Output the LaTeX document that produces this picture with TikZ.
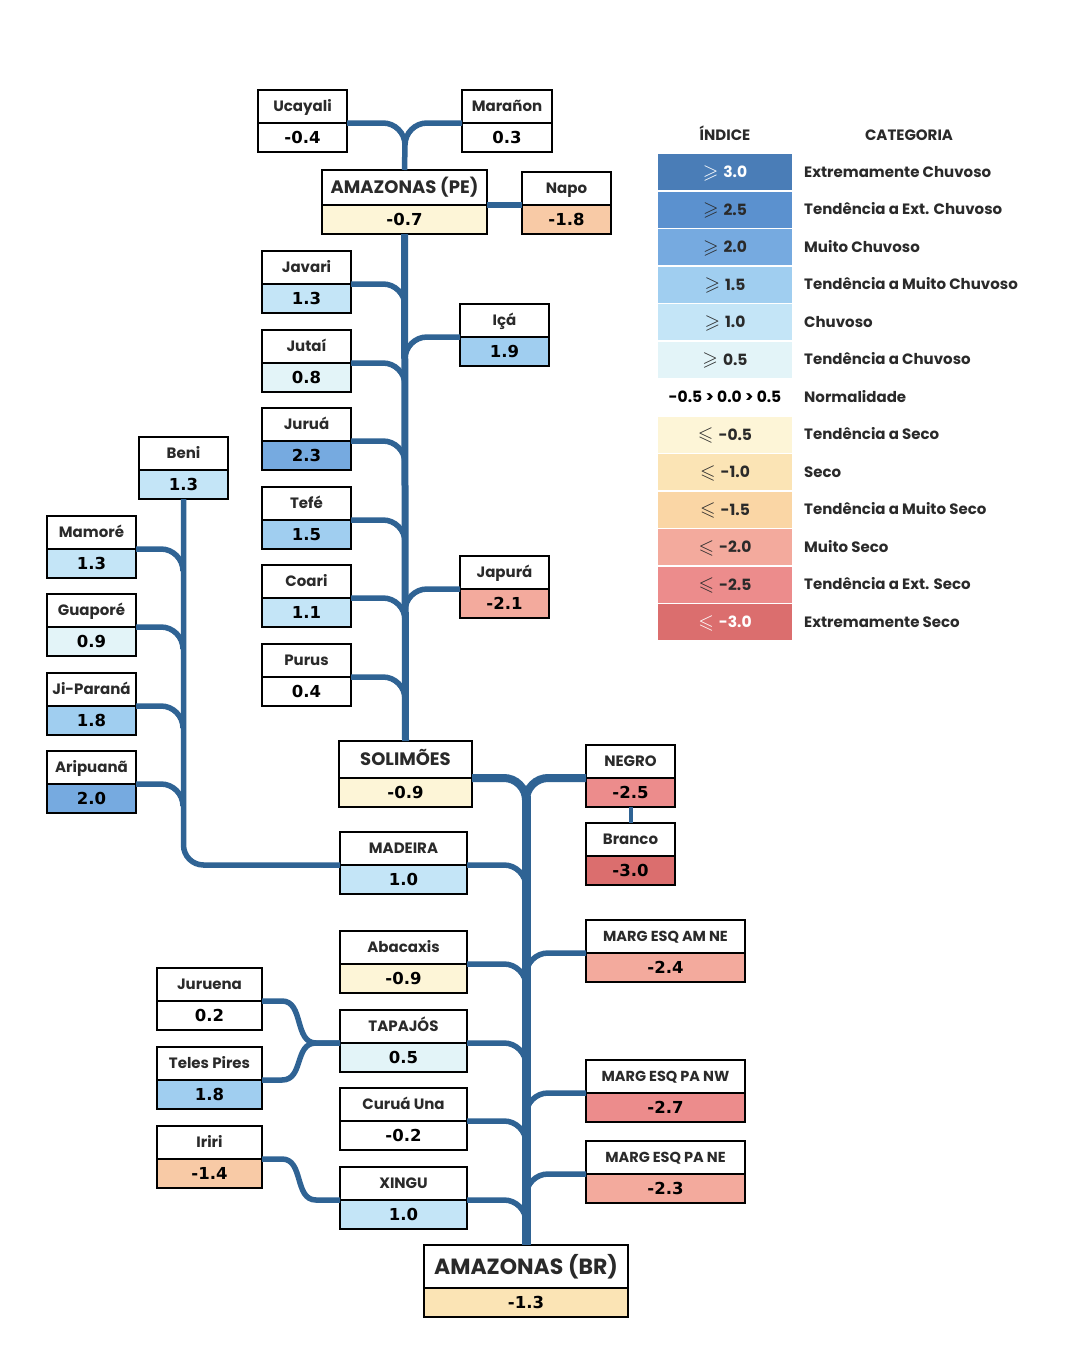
\documentclass[tikz,border=0pt]{standalone}
\usepackage{fontspec}
\usepackage{amssymb}
\usetikzlibrary{calc}
\newfontfamily\labfont{Poppins Bold}
\newfontfamily\valfont{DejaVu Sans}
\definecolor{txt}{HTML}{2A2A2A}
\definecolor{riv}{HTML}{2F6394}
\definecolor{c30}{HTML}{4A7DB7}
\definecolor{c25}{HTML}{5B91CF}
\definecolor{c20}{HTML}{76AAE0}
\definecolor{c15}{HTML}{A0CEF0}
\definecolor{c10}{HTML}{C4E5F7}
\definecolor{c05}{HTML}{E3F4F8}
\definecolor{n05}{HTML}{FDF5D7}
\definecolor{n10}{HTML}{FBE4B5}
\definecolor{n15}{HTML}{FAD6A5}
\definecolor{npe}{HTML}{F8CAA6}
\definecolor{n20}{HTML}{F3AA9D}
\definecolor{n25}{HTML}{EC8C8C}
\definecolor{n30}{HTML}{DB6E6E}
\tikzset{
  labbox/.style={draw=black, line width=1.8, fill=white, inner sep=0, outer sep=0,
    minimum height=33, text=txt, text height=10.5pt, text depth=0pt,
    font=\labfont\fontsize{15}{16}\selectfont},
  valbox/.style={draw=black, line width=1.8, inner sep=0, outer sep=0,
    minimum height=29, text=black, text height=12pt, text depth=0pt,
    font=\valfont\bfseries\fontsize{16.5}{17}\selectfont},
  big/.style={font=\labfont\fontsize{18}{19}\selectfont, text height=12.6pt},
  huge/.style={minimum height=43, font=\labfont\fontsize{22}{23}\selectfont, text height=15.4pt},
  marg/.style={font=\labfont\fontsize{14.5}{15}\selectfont, text height=10.2pt},
  trib/.style={draw=riv, line width=5.5},
  stem/.style={draw=riv, line width=7},
  trunk/.style={draw=riv, line width=9},
  thick branch/.style={draw=riv, line width=8},
  legbox/.style={inner sep=0, outer sep=0, minimum width=134, minimum height=36,
    text height=11pt, text depth=0pt, font=\labfont\fontsize{15.5}{16}\selectfont},
  cattext/.style={anchor=west, inner sep=0, text=txt, text height=10.5pt, text depth=0pt,
    font=\labfont\fontsize{15}{16}\selectfont},
}
\newcommand\mygeq{{\fontsize{20}{20}\selectfont\raisebox{-0.5pt}{$\geqslant$}}\kern5pt}
\newcommand\myleq{{\fontsize{20}{20}\selectfont\raisebox{-0.5pt}{$\leqslant$}}\kern5pt}
% #1 label options, #2 name, #3 x, #4 top y, #5 width, #6 label, #7 value, #8 colour
\newcommand\rbox[8][]{%
  \node[labbox, minimum width=#5, anchor=north west, #1] (#2) at (#3,#4) {#6};
  \node[valbox, minimum width=#5, fill=#8, anchor=north] (#2-v) at (#2.south) {#7};}
% branch leaving the right side of a box into a stem on its right
\newcommand\lbr[3][trib]{%
  \draw[#1] (#2.south east) -- ($(#2.south east -| #3)+(-22,0)$)
    .. controls +(12,0) and +(0,-12) .. ($(#2.south east -| #3)+(0,22)$);}
% branch leaving the left side of a box into a stem on its left
\newcommand\rbr[3][trib]{%
  \draw[#1] (#2.south west) -- ($(#2.south west -| #3)+(22,0)$)
    .. controls +(-12,0) and +(0,-12) .. ($(#2.south west -| #3)+(0,22)$);}
% S-shaped branch into the left side of a box
\newcommand\sbr[2]{%
  \draw[trib] (#1.south east) -- ++(20,0)
    .. controls +(22,0) and +(-22,0) .. ($(#2.south west)+(-24,0)$) -- (#2.south west);}

\begin{document}
\begin{tikzpicture}[x=1pt,y=-1pt]
\useasboundingbox[fill=white] (0,0) rectangle (1080,1350);

% stems (x positions)
\coordinate (sU) at (405,0);
\coordinate (sL) at (526,0);
\coordinate (sB) at (183,0);
\coordinate (jtop) at (405,144);
\coordinate (jlow) at (526,796);

% ---------- boxes ----------
\rbox{ucayali}{258}{90}{89}{Ucayali}{-0.4}{white}
\rbox{maranon}{462}{90}{90}{Marañon}{0.3}{white}
\rbox[big, minimum height=35]{amzpe}{322}{170}{165}{AMAZONAS (PE)}{-0.7}{n05}
\rbox{napo}{522}{172}{89}{Napo}{-1.8}{npe}

\rbox{javari}{262}{251}{89}{Javari}{1.3}{c10}
\rbox{jutai}{262}{330}{89}{Jutaí}{0.8}{c05}
\rbox{jurua}{262}{408}{89}{Juruá}{2.3}{c20}
\rbox{tefe}{262}{487}{89}{Tefé}{1.5}{c15}
\rbox{coari}{262}{565}{89}{Coari}{1.1}{c10}
\rbox{purus}{262}{644}{89}{Purus}{0.4}{white}
\rbox{ica}{460}{304}{89}{Içá}{1.9}{c15}
\rbox{japura}{460}{556}{89}{Japurá}{-2.1}{n20}

\rbox{beni}{139}{437}{89}{Beni}{1.3}{c10}
\rbox{mamore}{47}{516}{89}{Mamoré}{1.3}{c10}
\rbox{guapore}{47}{594}{89}{Guaporé}{0.9}{c05}
\rbox{jiparana}{47}{673}{89}{Ji-Paraná}{1.8}{c15}
\rbox{aripuana}{47}{751}{89}{Aripuanã}{2.0}{c20}

\rbox[big, minimum height=37]{solimoes}{339}{741}{133}{SOLIMÕES}{-0.9}{n05}
\rbox{negro}{586}{745}{89}{NEGRO}{-2.5}{n25}
\rbox{branco}{586}{823}{89}{Branco}{-3.0}{n30}
\rbox{madeira}{340}{832}{127}{MADEIRA}{1.0}{c10}
\rbox{abacaxis}{340}{931}{127}{Abacaxis}{-0.9}{n05}
\rbox{tapajos}{340}{1010}{127}{TAPAJÓS}{0.5}{c05}
\rbox{curuauna}{340}{1088}{127}{Curuá Una}{-0.2}{white}
\rbox{xingu}{340}{1167}{127}{XINGU}{1.0}{c10}
\rbox{juruena}{157}{968}{105}{Juruena}{0.2}{white}
\rbox{telespires}{157}{1047}{105}{Teles Pires}{1.8}{c15}
\rbox{iriri}{157}{1126}{105}{Iriri}{-1.4}{npe}
\rbox[marg]{mamne}{586}{920}{159}{MARG ESQ AM NE}{-2.4}{n20}
\rbox[marg]{mpanw}{586}{1060}{159}{MARG ESQ PA NW}{-2.7}{n25}
\rbox[marg]{mpane}{586}{1141}{159}{MARG ESQ PA NE}{-2.3}{n20}
\rbox[huge]{amzbr}{424}{1245}{204}{AMAZONAS (BR)}{-1.3}{n10}

% ---------- connectors ----------
\lbr{ucayali}{sU}
\rbr{maranon}{sU}
\draw[trib] (jtop) -- (amzpe.north);
\draw[trib] (amzpe.south east) -- (napo.south west);
\draw[stem] (amzpe-v.south) -- (solimoes.north);
\lbr{javari}{sU}
\lbr{jutai}{sU}
\lbr{jurua}{sU}
\lbr{tefe}{sU}
\lbr{coari}{sU}
\lbr{purus}{sU}
\rbr{ica}{sU}
\rbr{japura}{sU}

\draw[trib, rounded corners=20] (beni-v.south) |- (madeira.south west);
\lbr{mamore}{sB}
\lbr{guapore}{sB}
\lbr{jiparana}{sB}
\lbr{aripuana}{sB}

\lbr[thick branch]{solimoes}{sL}
\rbr[thick branch]{negro}{sL}
\draw[trunk] (jlow) -- (amzbr.north);
\draw[draw=riv, line width=4] (negro-v.south) -- (branco.north);
\lbr{madeira}{sL}
\lbr{abacaxis}{sL}
\lbr{tapajos}{sL}
\lbr{curuauna}{sL}
\lbr{xingu}{sL}
\rbr{mamne}{sL}
\rbr{mpanw}{sL}
\rbr{mpane}{sL}
\sbr{juruena}{tapajos}
\sbr{telespires}{tapajos}
\sbr{iriri}{xingu}

% ---------- legend ----------
\node[text=txt, text height=10.5pt, text depth=0pt, font=\labfont\fontsize{15}{16}\selectfont] (hidx) at (725,135) {ÍNDICE};
\node[text=txt, text height=10.5pt, text depth=0pt, font=\labfont\fontsize{15}{16}\selectfont] (hcat) at (909,135) {CATEGORIA};
\foreach \i/\idx/\fc/\tc/\cat in {
  0/{\mygeq 3.0}/c30/white/Extremamente Chuvoso,
  1/{\mygeq 2.5}/c25/txt/Tendência a Ext. Chuvoso,
  2/{\mygeq 2.0}/c20/txt/Muito Chuvoso,
  3/{\mygeq 1.5}/c15/txt/Tendência a Muito Chuvoso,
  4/{\mygeq 1.0}/c10/txt/Chuvoso,
  5/{\mygeq 0.5}/c05/txt/Tendência a Chuvoso,
  6/{-0.5 > 0.0 > 0.5}/white/black/Normalidade,
  7/{\myleq -0.5}/n05/txt/Tendência a Seco,
  8/{\myleq -1.0}/n10/txt/Seco,
  9/{\myleq -1.5}/n15/txt/Tendência a Muito Seco,
  10/{\myleq -2.0}/n20/txt/Muito Seco,
  11/{\myleq -2.5}/n25/txt/Tendência a Ext. Seco,
  12/{\myleq -3.0}/n30/white/Extremamente Seco}{
  \node[legbox, fill=\fc, text=\tc] (leg\i) at (725,{172+37.5*\i}) {\idx};
  \node[cattext] (cat\i) at (804,{172+37.5*\i}) {\cat};
}
\end{tikzpicture}
\end{document}
